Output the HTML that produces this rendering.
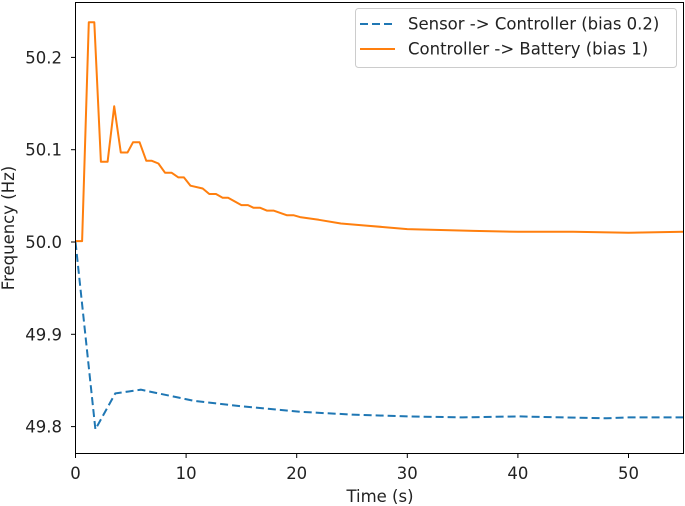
<!DOCTYPE html>
<html><head><meta charset="utf-8"><style>
html,body{margin:0;padding:0;background:#fff;}
svg{display:block;font-family:"DejaVu Sans","Liberation Sans",sans-serif;}
</style></head><body>
<svg id="chart" width="685" height="506">
<g id="grid"></g>
<g id="series"></g>
<rect x="75.5" y="2.5" width="608" height="451" fill="none" stroke="#000" stroke-width="1"/>
<g id="axes"></g>
<text x="380" y="502" font-size="16.5" fill="#222" text-anchor="middle">Time (s)</text>
<text x="0" y="0" font-size="16.5" fill="#222" text-anchor="middle" transform="translate(14,228) rotate(-90)">Frequency (Hz)</text>
<g>
<rect x="355.5" y="8.5" width="321" height="59" rx="3" fill="#fff" fill-opacity="0.8" stroke="#ccc"/>
<line x1="360" y1="24" x2="395" y2="24" stroke="#1f77b4" stroke-width="2" stroke-dasharray="8,4"/>
<text x="408" y="29.5" font-size="16.5" fill="#222">Sensor -&gt; Controller (bias 0.2)</text>
<line x1="360" y1="49" x2="395" y2="49" stroke="#ff7f0e" stroke-width="2"/>
<text x="408" y="54.5" font-size="16.5" fill="#222">Controller -&gt; Battery (bias 1)</text>
</g>
</svg>
<script>
const xTicks = [0,10,20,30,40,50];
const yTicks = [49.8,49.9,50.0,50.1,50.2];
const yTickLabels = ["49.8","49.9","50.0","50.1","50.2"];
const sensorT = [0,1.8,3.6,5.9,10.7,15,20.3,25,30,35,40,48,50,55];
const sensorV = [50.0,49.797,49.836,49.840,49.828,49.822,49.816,49.813,49.811,49.810,49.811,49.809,49.810,49.810];
const batteryT = [0,0.6,1.2,1.7,2.3,2.9,3.5,4.1,4.7,5.2,5.8,6.4,6.9,7.5,8.1,8.7,9.3,9.8,10.4,11.5,12.1,12.7,13.3,13.8,15,15.6,16.1,16.7,17.3,17.9,19.1,19.7,20.3,22,24,26,28,30,33,36,40,45,50,55];
const batteryV = [50.001,50.001,50.238,50.238,50.087,50.087,50.147,50.097,50.097,50.108,50.108,50.088,50.088,50.085,50.075,50.075,50.070,50.070,50.061,50.058,50.052,50.052,50.048,50.048,50.040,50.040,50.037,50.037,50.034,50.034,50.029,50.029,50.027,50.024,50.020,50.018,50.016,50.014,50.013,50.012,50.011,50.011,50.010,50.011];
const NS="http://www.w3.org/2000/svg";
const X0=75.5, XS=11.06, Y0=242, YS=923;
function sx(t){return X0+t*XS;}
function sy(v){return Y0-(v-50)*YS;}
const axes=document.getElementById('axes');
xTicks.forEach(t=>{
 const l=document.createElementNS(NS,'line');
 l.setAttribute('x1',sx(t));l.setAttribute('x2',sx(t));l.setAttribute('y1',453.5);l.setAttribute('y2',458);l.setAttribute('stroke','#000');
 
 
 axes.appendChild(l);
 const tx=document.createElementNS(NS,'text');
 tx.setAttribute('x',sx(t));tx.setAttribute('y',479);tx.setAttribute('font-size','16.5');tx.setAttribute('fill','#222');tx.setAttribute('text-anchor','middle');
 tx.textContent=String(t);
 
 
 axes.appendChild(tx);
});
yTicks.forEach((v,i)=>{
 const l=document.createElementNS(NS,'line');
 l.setAttribute('x1',71);l.setAttribute('x2',75.5);l.setAttribute('y1',sy(v));l.setAttribute('y2',sy(v));l.setAttribute('stroke','#000');
 
 
 axes.appendChild(l);
 const tx=document.createElementNS(NS,'text');
 tx.setAttribute('x',62);tx.setAttribute('y',sy(v)+6);tx.setAttribute('font-size','16.5');tx.setAttribute('fill','#222');tx.setAttribute('text-anchor','end');
 tx.textContent=yTickLabels[i];
 
 
 axes.appendChild(tx);
});
const ser=document.getElementById('series');
function path(ts,vs){return ts.map((t,i)=>(i?'L':'M')+sx(t).toFixed(1)+','+sy(vs[i]).toFixed(1)).join(' ');}
const cp=document.createElementNS(NS,'clipPath');cp.setAttribute('id','clip');
const cr=document.createElementNS(NS,'rect');cr.setAttribute('x',75.5);cr.setAttribute('y',2.5);cr.setAttribute('width',608);cr.setAttribute('height',451);
cp.appendChild(cr);ser.appendChild(cp);
const pb=document.createElementNS(NS,'path');
pb.setAttribute('d',path(sensorT,sensorV));pb.setAttribute('fill','none');pb.setAttribute('stroke','#1f77b4');pb.setAttribute('stroke-width','2');pb.setAttribute('stroke-dasharray','8,4');pb.setAttribute('clip-path','url(#clip)');


ser.appendChild(pb);
const po=document.createElementNS(NS,'path');
po.setAttribute('d',path(batteryT,batteryV));po.setAttribute('fill','none');po.setAttribute('stroke','#ff7f0e');po.setAttribute('stroke-width','2');po.setAttribute('stroke-linejoin','round');po.setAttribute('clip-path','url(#clip)');


ser.appendChild(po);
</script>
</body></html>
